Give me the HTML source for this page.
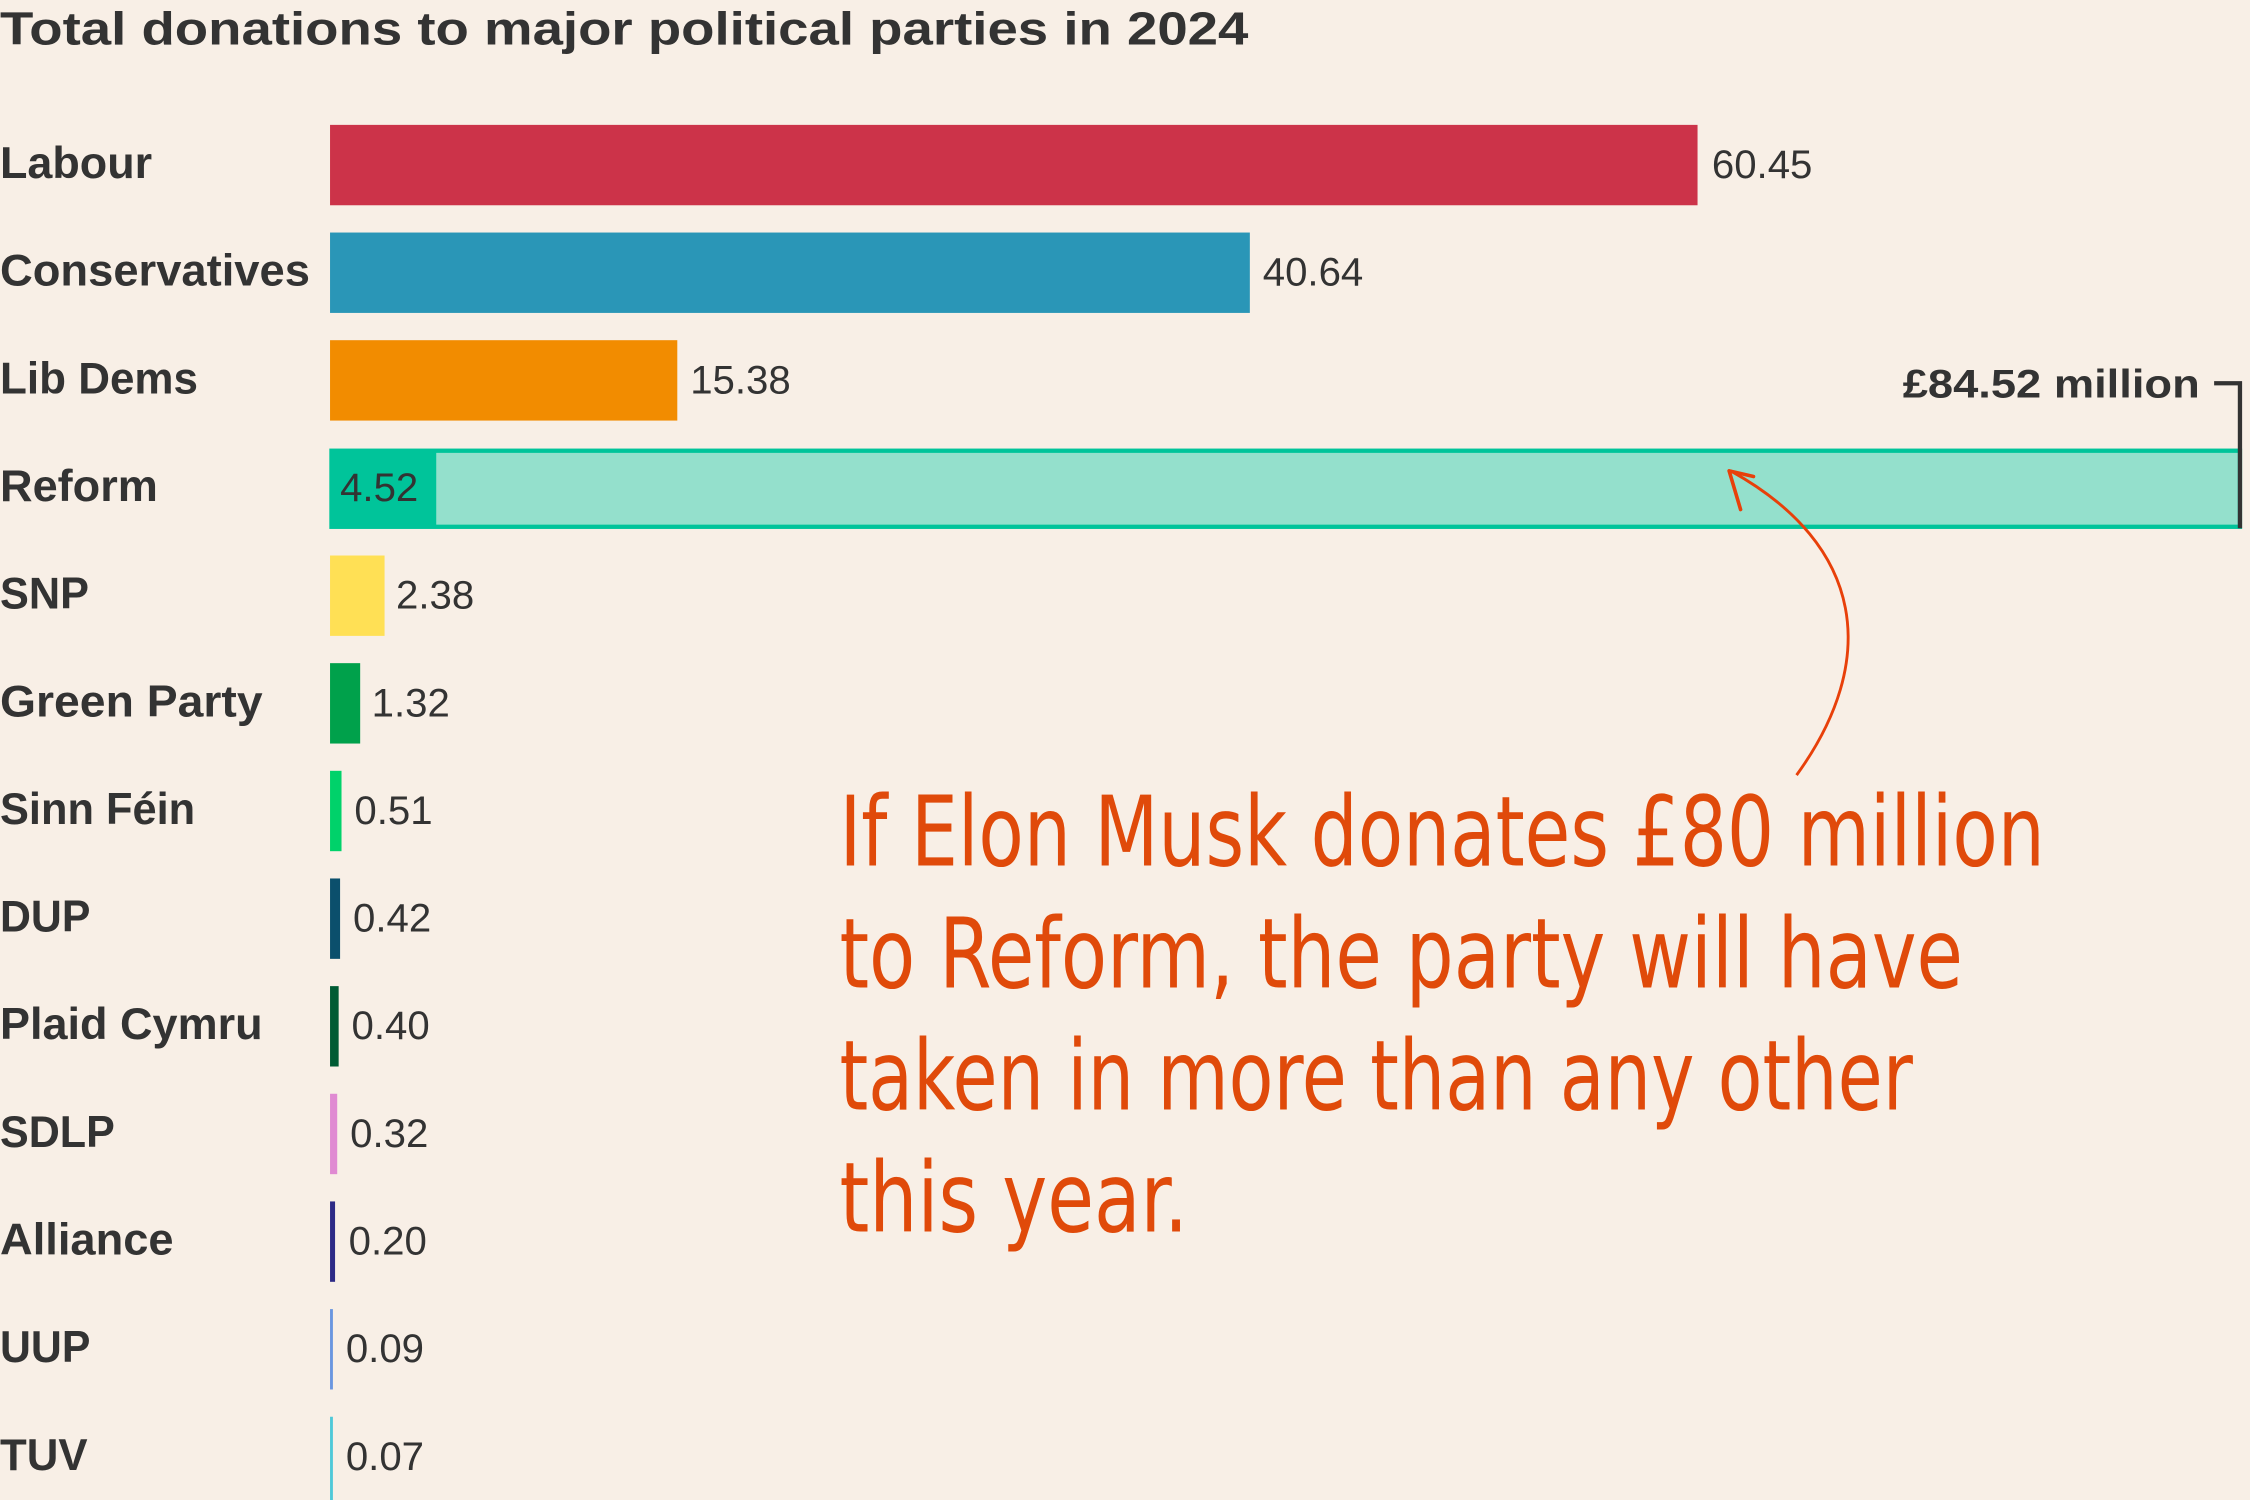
<!DOCTYPE html>
<html><head><meta charset="utf-8"><style>
html,body{margin:0;padding:0;background:#f8efe6;}
svg{display:block;}
</style></head><body>
<svg width="2250" height="1500" viewBox="0 0 1568 1045" preserveAspectRatio="none" xmlns="http://www.w3.org/2000/svg">
<rect width="1568" height="1045" fill="#f8efe6"/>
<text x="0" y="31" font-family="Liberation Sans, sans-serif" font-weight="bold" font-size="32" fill="#333" textLength="870" lengthAdjust="spacingAndGlyphs">Total donations to major political parties in 2024</text>
<g font-family="Liberation Sans, sans-serif" font-size="28" fill="#333">
<g font-weight="bold" font-size="31" lengthAdjust="spacingAndGlyphs">
<text x="0" y="124" textLength="106" lengthAdjust="spacingAndGlyphs">Labour</text>
<text x="0" y="199" textLength="216" lengthAdjust="spacingAndGlyphs">Conservatives</text>
<text x="0" y="274" textLength="138" lengthAdjust="spacingAndGlyphs">Lib Dems</text>
<text x="0" y="349" textLength="110" lengthAdjust="spacingAndGlyphs">Reform</text>
<text x="0" y="424" textLength="62" lengthAdjust="spacingAndGlyphs">SNP</text>
<text x="0" y="499" textLength="183" lengthAdjust="spacingAndGlyphs">Green Party</text>
<text x="0" y="574" textLength="136" lengthAdjust="spacingAndGlyphs">Sinn Féin</text>
<text x="0" y="649" textLength="63" lengthAdjust="spacingAndGlyphs">DUP</text>
<text x="0" y="724" textLength="183" lengthAdjust="spacingAndGlyphs">Plaid Cymru</text>
<text x="0" y="799" textLength="80" lengthAdjust="spacingAndGlyphs">SDLP</text>
<text x="0" y="874" textLength="121" lengthAdjust="spacingAndGlyphs">Alliance</text>
<text x="0" y="949" textLength="63" lengthAdjust="spacingAndGlyphs">UUP</text>
<text x="0" y="1024" textLength="61" lengthAdjust="spacingAndGlyphs">TUV</text>
</g>
<rect x="230" y="87" width="953" height="56" fill="#cc3349"/>
<rect x="230" y="162" width="641" height="56" fill="#2a96b7"/>
<rect x="230" y="237" width="242" height="56" fill="#f28c00"/>
<rect x="231" y="314" width="1330" height="53" fill="#94e0cc" stroke="#00c49a" stroke-width="3"/>
<rect x="230" y="313" width="74" height="55" fill="#00c49a"/>
<rect x="230" y="387" width="38" height="56" fill="#ffe055"/>
<rect x="230" y="462" width="21" height="56" fill="#00a14b"/>
<rect x="230" y="537" width="8" height="56" fill="#00d26a"/>
<rect x="230" y="612" width="7" height="56" fill="#0b4f6c"/>
<rect x="230" y="687" width="6" height="56" fill="#005b34"/>
<rect x="230" y="762" width="5" height="56" fill="#e08ad2"/>
<rect x="230" y="837" width="3.5" height="56" fill="#2d2a86"/>
<rect x="230" y="912" width="2" height="56" fill="#6a96e0"/>
<rect x="230" y="987" width="2" height="58" fill="#4fc8d8"/>
<g font-size="28">
<text x="1193" y="124">60.45</text>
<text x="880" y="199">40.64</text>
<text x="481" y="274">15.38</text>
<text x="237" y="349">4.52</text>
<text x="276" y="424">2.38</text>
<text x="259" y="499">1.32</text>
<text x="247" y="574">0.51</text>
<text x="246" y="649">0.42</text>
<text x="245" y="724">0.40</text>
<text x="244" y="799">0.32</text>
<text x="243" y="874">0.20</text>
<text x="241" y="949">0.09</text>
<text x="241" y="1024">0.07</text>
</g>
<text x="1326" y="277" font-weight="bold" font-size="28" textLength="207" lengthAdjust="spacingAndGlyphs">£84.52 million</text>
</g>
<path d="M1543 267 H1561 V368" fill="none" stroke="#333" stroke-width="3"/>
<path d="M1252 540 C1310 460 1300 380 1206 328" fill="none" stroke="#e8400a" stroke-width="2"/>
<path d="M1205 328 L1222 332 M1205 328 L1213 355" fill="none" stroke="#e8400a" stroke-width="2.5" stroke-linecap="round"/>
<g font-family="DejaVu Sans Condensed, DejaVu Sans, sans-serif" font-size="68" fill="#e04a0a">
<text x="585" y="603" textLength="840" lengthAdjust="spacingAndGlyphs">If Elon Musk donates £80 million</text>
<text x="585" y="688" textLength="783" lengthAdjust="spacingAndGlyphs">to Reform, the party will have</text>
<text x="585" y="773" textLength="748" lengthAdjust="spacingAndGlyphs">taken in more than any other</text>
<text x="585" y="858" textLength="243" lengthAdjust="spacingAndGlyphs">this year.</text>
</g>
</svg>
</body></html>
